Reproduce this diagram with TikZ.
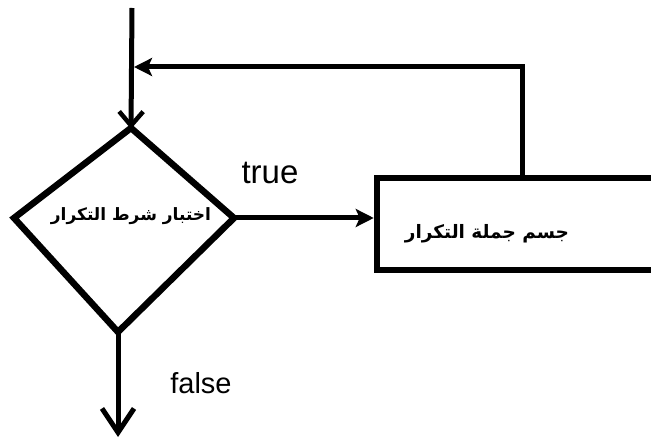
\documentclass[tikz,border=0pt]{standalone}
\usepackage{fontspec}
\setmainfont{Liberation Sans}
\newfontfamily\arabicfont[Script=Arabic]{DejaVu Sans}
\TeXXeTstate=1
\usetikzlibrary{arrows.meta}
\begin{document}
\begin{tikzpicture}[x=1pt,y=-1pt,
  conn/.style={line width=5pt},
  barb/.style={-{Straight Barb[length=14pt,width=24pt,line width=4.5pt]}},
  bigbarb/.style={-{Straight Barb[length=24pt,width=32pt,line width=5pt]}},
  headtri/.style={-{Stealth[length=18pt,width=18pt,inset=4pt]}},
  shapeline/.style={line width=6.5pt,line join=miter},
  lbl/.style={inner sep=0pt},
  ar/.style={inner sep=0pt,font=\arabicfont\bfseries\fontsize{18.5}{22}\selectfont}]
\useasboundingbox (0,0) rectangle (651,438);
% diamond corners
\coordinate (T) at (131,128);
\coordinate (R) at (234,218);
\coordinate (B) at (118,332);
\coordinate (L) at (14,218);
\draw[shapeline] (T) -- (R) -- (B) -- (L) -- cycle;
\node[ar,font=\arabicfont\bfseries\fontsize{17}{20}\selectfont] (cond) at (131,216) {\beginR اختبار شرط التكرار\endR};
% body box
\node[draw,shapeline,minimum width=293pt,minimum height=92pt,inner sep=0pt] (box) at (523.5,224) {};
\node[ar] (body) at (487,234) {\beginR جسم جملة التكرار\endR};
% connectors
\coordinate (start) at (132,8);
\coordinate (J) at (132,67);
\coordinate (fb) at (522,178);
\coordinate (C) at (522,67);
\coordinate (end) at (118,437);
\draw[conn,barb] (start) -- ([yshift=-1pt]T);
\draw[conn,headtri] (fb) -- (C) -- ([xshift=2pt]J);
\draw[conn,headtri] (R) -- (R -| box.west);
\draw[conn,bigbarb] (B) -- (end);
% labels
\node[lbl,font=\fontsize{33}{36}\selectfont] (t) at (270,173) {true};
\node[lbl,font=\fontsize{29}{33}\selectfont] (f) at (201,383) {false};
\end{tikzpicture}
\end{document}
